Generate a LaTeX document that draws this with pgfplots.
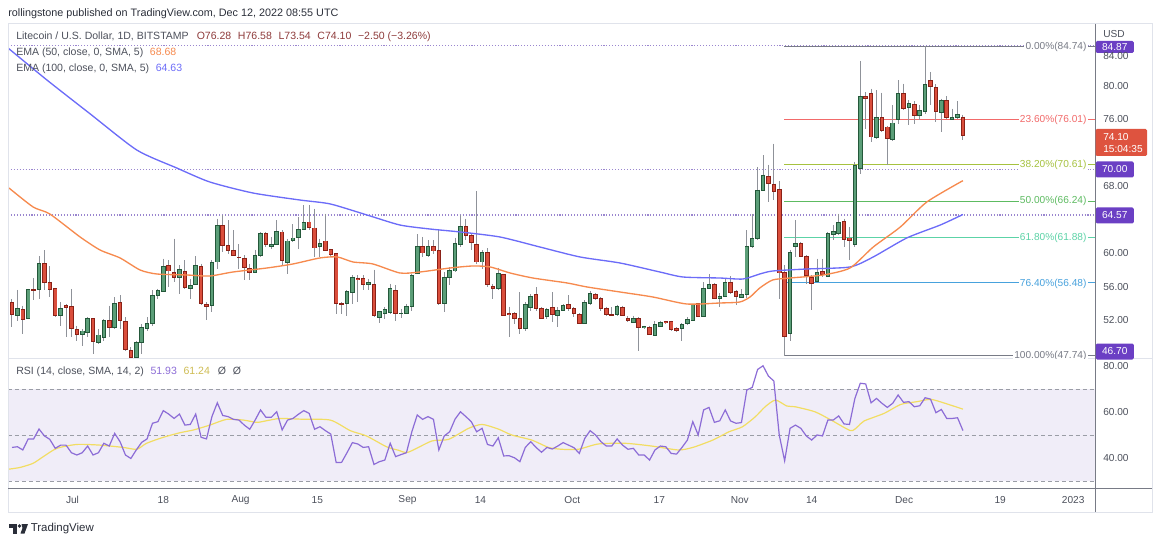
\documentclass[border=0pt]{standalone}
\usepackage{fontspec}
\setmainfont{Liberation Sans}
\usepackage{pgfplots}
\usepackage{pgfplotstable}
\pgfplotsset{compat=1.18}

\definecolor{upfill}{HTML}{5B9E78}
\definecolor{upedge}{HTML}{24583A}
\definecolor{dnfill}{HTML}{DA4E3C}
\definecolor{dnedge}{HTML}{8A2117}
\definecolor{wick}{HTML}{8F9299}
\definecolor{emaA}{HTML}{F68A4E}
\definecolor{emaB}{HTML}{6C6CF8}
\definecolor{fibgray}{HTML}{787B86}
\definecolor{fibred}{HTML}{F26A6A}
\definecolor{fibolive}{HTML}{A6C23F}
\definecolor{fibgreen}{HTML}{5DBB61}
\definecolor{fibteal}{HTML}{5CD3A7}
\definecolor{fibblue}{HTML}{48A2DD}
\definecolor{dotpurple}{HTML}{9A86CF}
\definecolor{boxpurple}{HTML}{6B3FC4}
\definecolor{boxred}{HTML}{DE533F}
\definecolor{rsiline}{HTML}{8C6CD6}
\definecolor{rsisma}{HTML}{F2DD62}
\definecolor{rsibg}{HTML}{F0EDF8}
\definecolor{dashgray}{HTML}{9A9DA6}
\definecolor{axtext}{HTML}{4C505B}
\definecolor{framegray}{HTML}{E0E3EB}
\definecolor{axline}{HTML}{787B86}
\definecolor{hdr}{HTML}{2A2E39}
\definecolor{ohlc}{HTML}{8E3B3B}

\newcommand\fs{\fontsize{7.6}{9}\selectfont}
\newcommand\fl{\fontsize{7.9}{9}\selectfont}

\pgfplotstableread{
i O H L C
0 54.06 54.46 51.22 52.62
1 52.54 55.62 51.94 53.42
2 53.22 53.74 50.34 52.02
3 52.22 55.74 52.14 55.62
4 55.66 57.06 54.34 55.54
5 55.62 59.62 54.54 58.74
6 58.74 60.34 55.54 56.54
7 56.46 58.46 54.74 55.70
8 55.74 55.86 52.34 52.54
9 52.54 54.14 51.34 53.34
10 53.70 53.94 49.94 53.46
11 53.62 55.74 49.94 51.02
12 50.82 51.34 49.54 50.26
13 50.22 50.94 48.94 50.70
14 50.54 52.34 49.94 52.14
15 52.14 52.14 47.94 49.46
16 49.34 50.94 49.14 50.22
17 49.94 52.14 49.54 51.94
18 51.94 53.74 49.94 51.14
19 51.14 54.74 50.94 53.94
20 54.06 54.94 50.94 51.94
21 51.82 52.34 48.34 48.46
22 48.34 48.74 47.40 47.46
23 47.50 49.54 47.40 49.34
24 49.34 51.54 47.94 51.14
25 50.94 52.34 50.74 51.54
26 51.54 55.54 51.34 54.94
27 54.94 55.74 54.54 55.54
28 55.46 59.34 55.34 58.42
29 58.54 59.14 55.94 57.86
30 57.74 61.74 56.54 57.06
31 57.06 58.54 55.14 58.02
32 57.86 59.14 55.74 55.94
33 55.82 56.94 54.54 56.14
34 56.22 59.62 56.14 58.54
35 58.42 58.74 53.86 53.94
36 53.82 54.14 52.02 53.66
37 53.74 59.14 52.94 58.94
38 58.94 64.14 58.14 63.34
39 63.34 64.54 60.14 60.94
40 60.94 63.94 59.94 60.34
41 60.34 62.74 59.62 59.70
42 59.54 61.06 58.14 59.42
43 59.42 59.74 56.74 58.26
44 58.14 58.74 56.74 57.66
45 57.66 60.42 57.62 59.74
46 59.74 62.54 59.54 62.34
47 62.34 62.54 60.74 61.02
48 60.74 61.94 60.54 61.06
49 61.06 63.94 60.94 62.62
50 62.54 62.74 58.54 59.14
51 58.86 61.74 57.54 61.46
52 61.46 63.46 61.38 61.82
53 61.82 64.34 60.50 62.86
54 62.86 65.74 62.74 63.66
55 63.74 65.74 62.74 63.06
56 63.02 65.34 59.54 60.62
57 60.74 61.74 59.54 61.14
58 61.46 64.74 60.26 60.34
59 60.42 60.54 59.54 59.86
60 59.94 60.02 52.74 53.94
61 53.94 54.14 52.74 53.86
62 53.94 55.54 52.54 55.38
63 55.34 57.34 53.94 57.14
64 57.02 57.34 54.14 56.86
65 56.94 57.34 55.54 56.26
66 56.22 56.94 55.54 56.46
67 56.26 58.02 52.34 52.54
68 52.34 53.14 51.66 53.02
69 52.74 53.54 52.14 53.22
70 52.94 56.34 52.74 55.74
71 55.54 56.14 51.94 52.74
72 52.74 53.30 52.30 52.85
73 52.82 53.94 52.74 53.66
74 53.62 57.54 53.14 57.34
75 57.54 62.26 57.46 60.82
76 60.82 61.94 59.54 60.02
77 59.70 61.54 59.54 60.82
78 60.78 61.54 59.94 60.26
79 60.34 62.74 53.86 53.94
80 53.94 57.74 52.94 57.14
81 57.14 58.34 56.14 57.94
82 57.86 61.86 57.74 61.14
83 61.02 64.54 60.74 63.22
84 63.22 64.14 61.54 62.14
85 62.14 62.34 60.34 61.22
86 61.02 67.42 58.74 58.94
87 58.94 60.34 58.14 60.06
88 60.06 60.62 55.94 56.22
89 56.02 56.34 54.54 55.82
90 55.74 58.26 55.62 57.54
91 57.46 57.54 52.46 52.54
92 52.82 53.62 49.94 52.66
93 52.82 52.94 51.54 52.22
94 52.22 55.34 50.34 50.94
95 50.94 54.14 50.74 53.82
96 53.54 55.14 53.14 54.86
97 55.06 55.94 53.14 53.34
98 53.34 53.54 52.14 52.22
99 52.46 53.46 52.14 53.22
100 53.46 55.34 51.74 52.62
101 52.54 53.54 51.14 53.14
102 53.14 53.94 53.06 53.74
103 53.82 54.94 53.14 53.34
104 53.34 53.54 52.34 52.74
105 52.66 52.82 51.54 51.62
106 51.62 54.34 51.54 54.06
107 53.94 55.46 53.82 55.14
108 55.06 55.22 54.42 54.54
109 54.54 54.74 53.14 53.34
110 53.42 53.62 52.54 52.66
111 52.66 53.54 52.46 52.58
112 52.62 53.86 52.54 53.62
113 53.54 53.74 52.46 52.54
114 52.22 52.46 51.82 51.90
115 51.74 52.54 51.66 52.14
116 52.14 52.34 48.34 51.06
117 51.06 51.34 50.94 51.22
118 51.14 51.34 50.22 50.26
119 50.14 51.86 50.06 51.42
120 51.26 51.94 51.14 51.74
121 51.82 51.94 51.54 51.66
122 51.82 51.94 50.74 50.86
123 50.94 51.14 50.54 50.74
124 50.94 51.62 49.54 51.46
125 51.54 52.34 51.46 52.02
126 51.94 53.94 51.86 53.86
127 53.94 54.02 52.34 52.46
128 52.46 56.54 52.34 55.82
129 55.82 57.46 55.74 56.26
130 56.26 56.42 54.50 54.62
131 54.54 55.22 53.54 54.86
132 54.86 56.94 54.74 56.46
133 56.54 57.22 55.14 55.26
134 55.46 55.62 53.86 54.86
135 54.74 55.74 54.66 55.06
136 55.06 62.74 54.66 60.82
137 60.74 64.74 60.66 61.74
138 61.74 70.34 61.54 67.54
139 67.54 71.70 67.46 69.34
140 69.22 70.60 66.14 68.34
141 68.26 73.10 66.34 67.34
142 67.62 68.66 54.50 57.62
143 57.74 58.54 47.74 50.02
144 50.34 60.34 49.54 60.06
145 60.74 63.94 59.54 61.14
146 61.14 61.34 59.54 59.62
147 59.62 59.74 56.34 57.30
148 57.14 57.34 53.22 56.34
149 56.66 59.34 56.54 57.74
150 57.78 59.34 57.14 57.42
151 57.26 62.54 57.14 62.34
152 62.22 63.34 61.54 62.62
153 62.34 64.74 62.14 63.66
154 63.82 64.14 60.74 61.66
155 61.82 63.14 59.22 61.54
156 61.02 70.94 60.74 70.54
157 70.10 83.00 69.50 78.78
158 78.78 79.30 74.90 78.46
159 79.10 79.70 73.30 73.90
160 73.82 79.50 73.70 76.22
161 76.22 79.20 74.50 74.62
162 75.10 75.20 70.50 73.70
163 73.58 77.70 73.40 75.58
164 75.98 80.70 75.40 79.10
165 79.10 80.30 77.10 77.30
166 77.42 78.30 75.30 77.90
167 77.82 78.20 75.40 76.50
168 76.50 77.70 75.90 77.10
169 76.90 84.74 76.70 80.18
170 80.62 81.70 77.70 79.90
171 79.82 80.20 75.70 76.98
172 76.78 78.50 74.50 78.30
173 78.22 78.80 76.00 76.22
174 76.00 77.30 75.90 76.22
175 76.22 78.20 76.10 76.58
176 76.28 76.58 73.54 74.10
}\candles

\pgfplotstableread{
i R
0 44.6
1 44.9
2 43.5
3 48.3
4 48.3
5 52.6
6 49.6
7 48.1
8 44.2
9 45.6
10 45.6
11 42.3
12 41.3
13 42.3
14 45.2
15 41.3
16 42.3
17 46.4
18 45.2
19 50.7
20 47.1
21 41.3
22 39.8
23 43.5
24 46.8
25 48.3
26 55.1
27 55.8
28 60.6
29 59.1
30 57.2
31 59.1
32 54.3
33 54.6
34 59.1
35 49.0
36 48.3
37 58.0
38 64.0
39 58.5
40 58.0
41 56.8
42 56.5
43 54.3
44 52.5
45 56.5
46 60.9
47 57.7
48 57.7
49 60.1
50 52.2
51 56.5
52 57.2
53 59.0
54 60.6
55 59.4
56 52.5
57 53.6
58 51.9
59 50.4
60 38.0
61 38.1
62 42.3
63 46.7
64 46.1
65 44.6
66 44.9
67 37.2
68 38.4
69 39.1
70 46.4
71 40.6
72 41.5
73 42.3
74 51.4
75 58.7
76 56.8
77 58.0
78 56.8
79 43.5
80 49.6
81 51.4
82 56.9
83 60.1
84 58.0
85 55.8
86 51.4
87 52.9
88 45.9
89 45.2
90 48.8
91 40.9
92 41.0
93 40.1
94 38.4
95 44.6
96 47.1
97 44.6
98 42.5
99 44.6
100 43.9
101 45.2
102 46.7
103 45.6
104 44.5
105 42.0
106 48.5
107 51.9
108 50.0
109 47.1
110 45.2
111 45.2
112 48.3
113 45.6
114 43.8
115 44.2
116 41.3
117 41.3
118 39.1
119 43.5
120 45.2
121 44.9
122 42.0
123 41.7
124 44.6
125 47.8
126 55.8
127 50.0
128 60.9
129 62.0
130 55.5
131 56.2
132 60.9
133 56.1
134 55.1
135 55.4
136 69.6
137 70.7
138 78.5
139 80.1
140 75.6
141 73.5
142 50.0
143 38.8
144 52.9
145 54.3
146 52.9
147 49.6
148 47.8
149 50.0
150 49.6
151 56.5
152 56.5
153 58.3
154 54.8
155 54.6
156 65.9
157 72.5
158 72.2
159 64.0
160 65.9
161 63.8
162 62.0
163 63.8
164 67.4
165 64.2
166 64.5
167 62.3
168 62.7
169 66.2
170 65.6
171 59.7
172 61.1
173 57.2
174 57.2
175 57.5
176 51.93
}\rsi

\begin{document}
\begin{tikzpicture}
\begin{scope}[x=0.75pt,y=-0.75pt]
\path[use as bounding box] (0,0) rectangle (1160,545);
\end{scope}

% ---------------- price pane ----------------
\begin{axis}[
  at={(6pt,-268.5pt)}, anchor=south west, scale only axis,
  width=815.25pt, height=250.5pt,
  xmin=-0.74, xmax=200.44, ymin=47.46, ymax=87.42,
  axis line style={draw=none}, xtick=\empty,
  ytick={52,56,60,68,76,80},
  yticklabel pos=right, major tick length=0pt,
  yticklabel style={font=\fs, text=axtext, anchor=west, inner sep=0pt, xshift=6pt,
    /pgf/number format/.cd, fixed, fixed zerofill, precision=2, assume math mode=true},
]
% dotted horizontal lines
\addplot[dotpurple, line width=0.8pt, dash pattern=on 0.8pt off 1.4pt] coordinates {(-0.74,84.87) (200.44,84.87)};
\addplot[dotpurple, line width=0.8pt, dash pattern=on 0.8pt off 1.4pt] coordinates {(-0.74,70.00) (200.44,70.00)};
\addplot[dotpurple, line width=0.8pt, dash pattern=on 0.8pt off 1.4pt] coordinates {(-0.74,64.57) (200.44,64.57)};
% fibonacci levels
\addplot[fibgray, line width=0.75pt] coordinates {(142.9,84.74) (200.44,84.74)};
\addplot[fibred, line width=0.75pt] coordinates {(142.9,76.01) (200.44,76.01)};
\addplot[fibolive, line width=0.75pt] coordinates {(142.9,70.61) (200.44,70.61)};
\addplot[fibgreen, line width=0.75pt] coordinates {(142.9,66.24) (200.44,66.24)};
\addplot[fibteal, line width=0.75pt] coordinates {(142.9,61.88) (200.44,61.88)};
\addplot[fibblue, line width=0.75pt] coordinates {(142.9,56.48) (200.44,56.48)};
\addplot[fibgray, line width=0.75pt] coordinates {(142.9,47.74) (200.44,47.74)};
% wicks
\addplot[draw=none, mark=none, error bars/.cd, y dir=minus, y explicit, error mark=none,
  error bar style={draw=wick, line width=0.75pt}]
  table[x=i, y=H, y error minus expr={\thisrow{H}-\thisrow{L}}] {\candles};
% up bodies
\addplot[draw=none, mark=none, error bars/.cd, y dir=minus, y explicit, error mark=none,
  error bar style={draw=upedge, line width=3.4pt}]
  table[x=i, y expr={\thisrow{C}>=\thisrow{O} ? \thisrow{C}+0.05 : nan},
        y error minus expr={\thisrow{C}-\thisrow{O}+0.1}] {\candles};
\addplot[draw=none, mark=none, error bars/.cd, y dir=minus, y explicit, error mark=none,
  error bar style={draw=upfill, line width=2.0pt}]
  table[x=i, y expr={(\thisrow{C}-\thisrow{O})>0.14 ? \thisrow{C}-0.06 : nan},
        y error minus expr={\thisrow{C}-\thisrow{O}-0.12}] {\candles};
% down bodies
\addplot[draw=none, mark=none, error bars/.cd, y dir=minus, y explicit, error mark=none,
  error bar style={draw=dnedge, line width=3.4pt}]
  table[x=i, y expr={\thisrow{C}<\thisrow{O} ? \thisrow{O}+0.05 : nan},
        y error minus expr={\thisrow{O}-\thisrow{C}+0.1}] {\candles};
\addplot[draw=none, mark=none, error bars/.cd, y dir=minus, y explicit, error mark=none,
  error bar style={draw=dnfill, line width=2.0pt}]
  table[x=i, y expr={(\thisrow{O}-\thisrow{C})>0.14 ? \thisrow{O}-0.06 : nan},
        y error minus expr={\thisrow{O}-\thisrow{C}-0.12}] {\candles};
% EMA 100
\addplot[emaB, line width=1pt, smooth, tension=0.4] coordinates {
(-0.74,84.55) (6.5,80.7) (14.4,76.7) (23.1,72.34) (30.5,70.19) (36.6,68.52) (44.6,67.20)
(53.3,66.36) (58.9,65.89) (65.7,64.57) (71.8,63.37) (77.4,62.89) (82.9,62.54) (90.3,61.94)
(97.7,60.74) (105.1,59.55) (112.5,58.83) (119.9,57.75) (124.2,57.15) (131.0,57.03)
(135.3,56.91) (138.4,57.51) (140.8,57.87) (147.1,58.11) (155.1,58.35) (159.4,59.55)
(165.6,61.82) (171.8,63.37) (176,64.63)};
% EMA 50
\addplot[emaA, line width=1pt, smooth, tension=0.4] coordinates {
(-0.56,67.80) (3.9,65.53) (7.0,64.69) (12.6,61.94) (16.3,60.38) (20.0,59.43) (23.7,57.99)
(26.8,57.51) (32.4,57.39) (36.6,57.27) (40.9,57.75) (47.2,58.23) (52.0,58.71) (57.0,59.43)
(60.2,59.55) (63.1,58.95) (66.8,58.71) (71.8,57.63) (75.5,57.75) (81.1,58.23) (85.3,58.47)
(88.5,58.35) (92.2,57.63) (96.4,57.03) (102.7,56.44) (106.4,55.96) (112.5,55.36)
(118.6,54.76) (124.9,53.92) (131.0,54.04) (134.7,54.16) (136.6,54.76) (138.4,55.84)
(140.8,56.80) (144.0,57.03) (150.1,57.39) (155.1,58.23) (159.4,60.74) (164.4,63.13)
(169.3,66.12) (176,68.68)};
\end{axis}

% ---------------- RSI pane ----------------
\begin{axis}[
  at={(6pt,-366pt)}, anchor=south west, scale only axis,
  width=815.25pt, height=97.5pt,
  xmin=-0.74, xmax=200.44, ymin=26.96, ymax=83.48,
  axis line style={draw=none}, major tick length=0pt,
  ytick={40,60,80}, yticklabel pos=right,
  yticklabel style={font=\fs, text=axtext, anchor=west, inner sep=0pt, xshift=6pt,
    /pgf/number format/.cd, fixed, fixed zerofill, precision=2, assume math mode=true},
  xtick={11.2,28,42.3,56.5,73.2,86.7,103.7,119.8,134.7,148,165.1,182.9,196.4},
  xticklabels={Jul,18,Aug,15,Sep,14,Oct,17,Nov,14,Dec,19,2023},
  xticklabel style={font=\fs, text=axtext, anchor=center, inner sep=0pt, yshift=-9pt},
]
\addplot[draw=none, fill=rsibg] coordinates {(-0.74,30) (200.44,30) (200.44,70) (-0.74,70) (-0.74,30)};
\addplot[dashgray, line width=0.75pt, dash pattern=on 3pt off 2.2pt] coordinates {(-0.74,70) (200.44,70)};
\addplot[dashgray, line width=0.75pt, dash pattern=on 3pt off 2.2pt] coordinates {(-0.74,50) (200.44,50)};
\addplot[dashgray, line width=0.75pt, dash pattern=on 3pt off 2.2pt] coordinates {(-0.74,30) (200.44,30)};
\addplot[rsisma, line width=0.9pt, smooth, tension=0.4] coordinates {
(-0.74,35.1) (1.5,35.9) (3.9,37.7) (5.8,40.6) (8.3,44.2) (12.0,45.9) (16.3,45.6) (20.6,44.6)
(23.1,43.8) (24.9,46.4) (28.0,49.0) (31.1,51.0) (33.6,52.2) (36.6,54.3) (39.7,56.8) (42.8,56.5)
(45.3,55.5) (47.1,56.2) (49.6,57.2) (53.3,56.9) (58.9,56.5) (62.6,51.9) (65.6,49.6) (69.3,44.9)
(71.5,43.4) (73.3,42.5) (77.7,47.4) (80.8,48.1) (84.5,52.9) (87.0,54.6) (90.0,52.6) (92.5,50.0)
(96.2,47.8) (99.3,44.6) (101.7,43.8) (104.8,43.8) (108.5,46.1) (113.5,46.4) (118.4,45.2)
(123.3,43.5) (126,44.6) (129.7,47.8) (132.7,51.4) (135.2,53.6) (137.6,58.0) (139.4,62.3)
(141.3,65.2) (143.4,62.6) (144.9,62.3) (148.6,60.1) (151.6,56.5) (155.2,51.9) (156.5,53.6)
(157.7,56.1) (161.4,59.4) (164.5,63.3) (167.5,64.5) (170.0,65.5) (172.4,64.0) (176,61.24)};
\addplot[rsiline, line width=0.9pt] table[x=i, y=R] {\rsi};
\end{axis}

% ---------------- overlay ----------------
\begin{scope}[x=0.75pt,y=-0.75pt]
\draw[framegray, line width=0.75pt] (8,24) rectangle (1152,512);
\draw[framegray, line width=0.75pt] (8,358) -- (1152,358);
\draw[axline, line width=0.75pt] (1095,24) -- (1095,512);
\draw[axline, line width=0.75pt] (8,488) -- (1152,488);

% fib labels
\begin{scope}
\clip (8,24) rectangle (1095,358);
\node[anchor=east, fill=white, inner sep=1pt, text=fibgray, font=\fs] at (1088,46.4) {0.00\%(84.74)};
\node[anchor=east, fill=white, inner sep=1pt, text=fibred, font=\fs] at (1088,119.4) {23.60\%(76.01)};
\node[anchor=east, fill=white, inner sep=1pt, text=fibolive, font=\fs] at (1088,164.6) {38.20\%(70.61)};
\node[anchor=east, fill=white, inner sep=1pt, text=fibgreen, font=\fs] at (1088,201.2) {50.00\%(66.24)};
\node[anchor=east, fill=white, inner sep=1pt, text=fibteal, font=\fs] at (1088,237.7) {61.80\%(61.88)};
\node[anchor=east, fill=white, inner sep=1pt, text=fibblue, font=\fs] at (1088,283.5) {76.40\%(56.48)};
\node[anchor=east, fill=white, inner sep=1pt, text=fibgray, font=\fs] at (1088,355.6) {100.00\%(47.74)};
\end{scope}

% price axis boxes
\node[fill=boxpurple, text=white, font=\fs, inner sep=0pt, minimum width=28.5pt, minimum height=9pt, rounded corners=1pt, anchor=west] at (1095.5,47) {84.87};
\node[anchor=west, text=axtext, font=\fs, inner sep=0pt] at (1103,56.5) {84.00};
\node[fill=boxpurple, text=white, font=\fs, inner sep=0pt, minimum width=28.5pt, minimum height=12pt, rounded corners=1pt, anchor=west] at (1095.5,169.5) {70.00};
\node[fill=boxpurple, text=white, font=\fs, inner sep=0pt, minimum width=28.5pt, minimum height=12pt, rounded corners=1pt, anchor=west] at (1095.5,215.5) {64.57};
\node[fill=boxpurple, text=white, font=\fs, inner sep=0pt, minimum width=28.5pt, minimum height=12pt, rounded corners=1pt, anchor=west] at (1095.5,351.5) {46.70};
\fill[boxred, rounded corners=1pt] (1095.5,129) rectangle (1147,156);
\node[anchor=west, text=white, font=\fs, inner sep=0pt] at (1103,137) {74.10};
\node[anchor=west, text=white, font=\fs, inner sep=0pt] at (1103,149) {15:04:35};
\node[anchor=west, text=axtext, font=\fs, inner sep=0pt] at (1103,34) {USD};

% header / legends
\node[anchor=west, text=hdr, font=\fontsize{8.1}{10}\selectfont, inner sep=0pt] at (8,14) {rollingstone published on TradingView.com, Dec 12, 2022 08:55 UTC};
\node[anchor=west, text=axtext, font=\fl, inner sep=0pt] at (16,37) {Litecoin / U.S. Dollar, 1D, BITSTAMP\hspace{6pt}\textcolor{ohlc}{O76.28\hspace{5pt}H76.58\hspace{5pt}L73.54\hspace{5pt}C74.10\hspace{5pt}−2.50 (−3.26\%)}};
\node[anchor=west, text=axtext, font=\fl, inner sep=0pt] at (16,53) {EMA (50, close, 0, SMA, 5)\hspace{5pt}\textcolor{emaA}{68.68}};
\node[anchor=west, text=axtext, font=\fl, inner sep=0pt] at (16,69) {EMA (100, close, 0, SMA, 5)\hspace{5pt}\textcolor{emaB}{64.63}};
\node[anchor=west, text=axtext, font=\fl, inner sep=0pt] at (16,372) {RSI (14, close, SMA, 14, 2)\hspace{5pt}\textcolor{rsiline}{51.93}\hspace{5pt}\textcolor{rsisma!85!black}{61.24}\hspace{6pt}Ø\hspace{5pt}Ø};

% TradingView logo
\fill[hdr] (9,524) rectangle (17,527.5);
\fill[hdr] (13,524) rectangle (17,533.5);
\fill[hdr] (19.5,526) circle (1.8);
\fill[hdr] (21.5,524) -- (28,524) -- (24.5,533.5) -- (20.5,533.5) -- (22.5,528) -- cycle;
\node[anchor=west, text=hdr, font=\fontsize{8.6}{10}\selectfont, inner sep=0pt] at (30.5,529) {TradingView};
\end{scope}
\end{tikzpicture}
\end{document}
